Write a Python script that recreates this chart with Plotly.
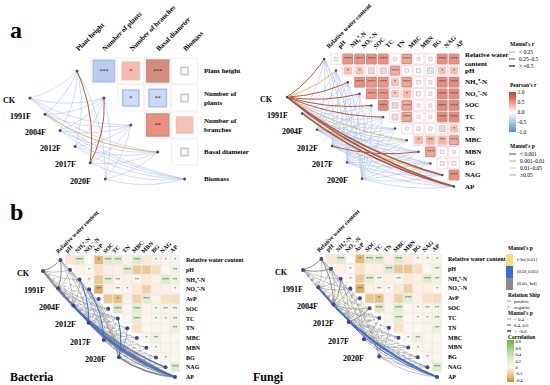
import numpy as np
import plotly.graph_objects as go

W, H = 550, 385
FONT = "Liberation Serif"

# ------------------------------------------------------------------ DATA
nodes = ["CK", "1991F", "2004F", "2012F", "2017F", "2020F"]

# panel a (left): plant traits
plant_rows = ["Plant height", "Number of<br>plants", "Number of<br>branches", "Basal diameter", "Biomass"]
plant_heads = ["Plant height", "Number of plants", "Number of branches", "Basal diameter", "Biomass"]
plant_r = [[-0.60, 0.45, 0.85, 0.05],
           [-0.40, -0.45, 0.05],
           [0.75, 0.40],
           [0.05]]
plant_sig = [["***", "*", "***", ""],
             ["*", "**", ""],
             ["**", ""],
             [""]]
plant_mantel_r = [[0.15, 0.15, 0.15, 0.15, 0.15],
                  [0.15, 0.15, 0.15, 0.35, 0.15],
                  [0.15, 0.15, 0.15, 0.15, 0.15],
                  [0.15, 0.15, 0.15, 0.15, 0.15],
                  [0.30, 0.30, 0.15, 0.15, 0.15],
                  [0.15, 0.15, 0.15, 0.15, 0.15]]
plant_mantel_p = [[0.30, 0.30, 0.30, 0.30, 0.30],
                  [0.30, 0.30, 0.30, 0.005, 0.30],
                  [0.30, 0.30, 0.30, 0.30, 0.30],
                  [0.30, 0.30, 0.30, 0.30, 0.30],
                  [0.0005, 0.0005, 0.30, 0.30, 0.30],
                  [0.30, 0.30, 0.30, 0.30, 0.30]]

# panel a (right): soil properties
soil_a_rows = ["Relative water<br>content", "pH", "NH₄⁺-N", "NO₃⁻-N",
               "SOC", "TC", "TN", "MBC", "MBN", "BG", "NAG", "AP"]
soil_a_heads = ["Relative water content", "pH", "NH₄⁺-N", "NO₃⁻-N",
                "SOC", "TC", "TN", "MBC", "MBN", "BG", "NAG", "AP"]
soil_a_r = [[0.08, 0.70, 0.70, 0.75, 0.75, 0.08, 0.60, 0.03, 0.08, 0.75, 0.75],
            [0.40, 0.40, 0.30, 0.30, 0.55, 0.08, -0.15, -0.30, 0.40, 0.40],
            [0.75, 0.70, 0.70, 0.40, 0.60, 0.08, 0.03, 0.80, 0.80],
            [0.70, 0.70, 0.35, 0.45, -0.15, 0.03, 0.80, 0.80],
            [0.80, 0.30, 0.60, 0.03, 0.03, 0.80, 0.80],
            [0.30, 0.60, 0.03, 0.03, 0.80, 0.80],
            [0.03, 0.08, 0.08, 0.30, 0.40],
            [0.45, 0.50, 0.50, 0.55],
            [0.60, 0.08, 0.03],
            [0.12, 0.12],
            [0.75]]
soil_a_sig = [["", "***", "***", "***", "***", "", "***", "", "", "***", "***"],
              ["*", "*", "", "", "***", "", "", "", "*", "*"],
              ["***", "***", "***", "*", "***", "", "", "***", "***"],
              ["***", "***", "*", "*", "", "", "***", "***"],
              ["***", "", "***", "", "", "***", "***"],
              ["", "***", "", "", "***", "***"],
              ["", "", "", "", "*"],
              ["*", "**", "**", "***"],
              ["***", "", ""],
              ["", ""],
              ["***"]]
soil_a_mantel_r = [[0.45, 0.35, 0.40, 0.40, 0.40, 0.40, 0.10, 0.30, 0.10, 0.10, 0.55, 0.55],
                   [0.15, 0.15, 0.15, 0.15, 0.15, 0.15, 0.15, 0.15, 0.15, 0.15, 0.40, 0.50],
                   [0.15, 0.15, 0.15, 0.15, 0.15, 0.15, 0.15, 0.15, 0.15, 0.15, 0.15, 0.15],
                   [0.15, 0.15, 0.15, 0.15, 0.15, 0.15, 0.15, 0.15, 0.40, 0.15, 0.15, 0.15],
                   [0.10, 0.10, 0.10, 0.10, 0.10, 0.10, 0.10, 0.10, 0.10, 0.10, 0.10, 0.10],
                   [0.10, 0.10, 0.10, 0.10, 0.10, 0.10, 0.10, 0.10, 0.10, 0.10, 0.10, 0.10]]
soil_a_mantel_p = [[0.0005, 0.005, 0.0005, 0.0005, 0.0005, 0.0005, 0.20, 0.005, 0.30, 0.30, 0.0005, 0.0005],
                   [0.30, 0.30, 0.30, 0.30, 0.30, 0.30, 0.30, 0.30, 0.30, 0.30, 0.005, 0.0005],
                   [0.30, 0.30, 0.30, 0.30, 0.30, 0.30, 0.30, 0.30, 0.30, 0.30, 0.30, 0.30],
                   [0.30, 0.30, 0.30, 0.30, 0.30, 0.30, 0.30, 0.30, 0.0005, 0.30, 0.30, 0.30],
                   [0.30, 0.30, 0.30, 0.30, 0.30, 0.30, 0.30, 0.30, 0.30, 0.30, 0.30, 0.30],
                   [0.30, 0.30, 0.30, 0.30, 0.30, 0.30, 0.30, 0.30, 0.30, 0.30, 0.30, 0.30]]

# panel b: soil properties vs bacteria / fungi
soil_b_rows = ["Relative water content", "pH", "NH₄⁺-N", "NO₃⁻-N", "AvP",
               "SOC", "TC", "TN", "MBC", "MBN", "BG", "NAG", "AP"]
soil_b_r = [[-0.12, 0.35, 0.00, -0.40, 0.35, 0.35, -0.05, 0.35, -0.10, 0.10, 0.05, 0.08],
            [-0.05, 0.02, -0.15, -0.05, -0.05, 0.35, -0.30, -0.30, -0.18, 0.02, 0.20],
            [0.02, -0.30, 0.30, 0.08, -0.05, 0.08, -0.10, -0.05, 0.35, 0.20],
            [-0.45, -0.05, 0.05, 0.02, -0.10, -0.25, -0.05, -0.05, 0.05],
            [-0.30, -0.35, -0.05, -0.25, 0.30, -0.05, -0.15, -0.18],
            [0.40, 0.05, 0.35, -0.02, 0.08, 0.10, 0.12],
            [0.05, 0.30, 0.02, 0.05, 0.08, 0.15],
            [-0.15, 0.05, 0.05, 0.08, 0.20],
            [0.05, 0.20, 0.05, 0.05],
            [0.05, 0.05, 0.08],
            [0.05, 0.05],
            [0.35]]
soil_b_sig = [["", "***", "", "*", "***", "***", "", "***", "", "*", "*", "*"],
              ["", "*", "", "", "", "***", "", "", "", "", "**"],
              ["*", "", "***", "**", "", "**", "", "", "***", "**"],
              ["**", "", "**", "*", "", "", "", "", "*"],
              ["", "*", "", "", "***", "", "", ""],
              ["***", "", "***", "", "*", "**", "**"],
              ["", "***", "", "*", "*", "**"],
              ["", "", "", "", "**"],
              ["*", "**", "", ""],
              ["*", "", ""],
              ["*", ""],
              ["***"]]
bac_mantel_r = [[0.45, 0.30, 0.30, -0.20, -0.20, 0.30, 0.30, -0.20, -0.20, -0.20, -0.20, 0.45, 0.65],
                [0.45, 0.30, -0.20, -0.20, -0.20, 0.30, 0.30, -0.20, -0.20, -0.20, -0.20, 0.45, 0.65],
                [0.30, -0.20, 0.30, -0.20, -0.20, -0.20, 0.30, -0.20, -0.20, -0.20, -0.20, 0.30, 0.65],
                [0.30, -0.20, 0.45, -0.20, -0.20, 0.30, -0.20, -0.20, 0.30, -0.20, -0.20, -0.20, 0.65],
                [0.30, -0.20, 0.30, 0.45, -0.20, -0.20, -0.20, 0.30, -0.20, -0.20, -0.20, -0.20, 0.45],
                [0.30, 0.30, 0.30, 0.30, -0.20, -0.20, 0.45, 0.35, 0.30, 0.30, -0.20, 0.30, 0.65]]
bac_mantel_p = [[0.30, 0.30, 0.30, 0.30, 0.30, 0.30, 0.30, 0.30, 0.30, 0.30, 0.30, 0.30, 0.30],
                [0.30, 0.30, 0.30, 0.30, 0.30, 0.30, 0.30, 0.30, 0.30, 0.30, 0.30, 0.03, 0.30],
                [0.30, 0.30, 0.30, 0.30, 0.30, 0.30, 0.30, 0.30, 0.30, 0.30, 0.30, 0.30, 0.03],
                [0.30, 0.30, 0.03, 0.30, 0.30, 0.30, 0.30, 0.30, 0.30, 0.30, 0.30, 0.30, 0.30],
                [0.30, 0.30, 0.30, 0.03, 0.30, 0.30, 0.30, 0.30, 0.30, 0.30, 0.30, 0.30, 0.30],
                [0.30, 0.30, 0.30, 0.30, 0.30, 0.30, 0.03, 0.03, 0.005, 0.30, 0.30, 0.30, 0.30]]
fun_mantel_r = [[0.45, 0.45, 0.30, 0.30, -0.20, -0.20, 0.30, -0.20, -0.20, -0.20, -0.20, -0.20, 0.30],
                [0.30, 0.30, 0.30, 0.30, 0.30, 0.30, -0.20, -0.20, 0.30, -0.20, -0.20, 0.30, 0.65],
                [0.45, 0.30, 0.45, 0.30, -0.20, 0.30, 0.30, -0.20, 0.30, -0.20, -0.20, 0.30, 0.45],
                [0.30, -0.20, 0.30, -0.20, -0.20, 0.45, -0.20, -0.20, -0.20, -0.20, 0.30, -0.20, 0.55],
                [0.30, -0.20, -0.20, 0.30, -0.20, -0.20, 0.30, -0.20, -0.20, 0.30, -0.20, -0.20, 0.30],
                [0.30, -0.20, -0.20, -0.20, -0.20, -0.20, -0.20, 0.30, -0.20, -0.20, 0.30, 0.30, 0.30]]
fun_mantel_p = [[0.30, 0.30, 0.30, 0.30, 0.30, 0.30, 0.30, 0.30, 0.30, 0.30, 0.30, 0.30, 0.30],
                [0.30, 0.30, 0.30, 0.30, 0.005, 0.005, 0.30, 0.30, 0.30, 0.30, 0.30, 0.30, 0.03],
                [0.30, 0.30, 0.30, 0.30, 0.30, 0.30, 0.30, 0.005, 0.30, 0.30, 0.30, 0.30, 0.30],
                [0.30, 0.30, 0.30, 0.30, 0.30, 0.30, 0.30, 0.30, 0.30, 0.30, 0.30, 0.30, 0.03],
                [0.30, 0.30, 0.30, 0.30, 0.30, 0.30, 0.30, 0.30, 0.30, 0.30, 0.30, 0.30, 0.30],
                [0.30, 0.30, 0.30, 0.30, 0.30, 0.30, 0.30, 0.30, 0.30, 0.30, 0.30, 0.30, 0.30]]

# ------------------------------------------------------------------ LAYOUT PARAMS
PANELS = {
    "A1": dict(ox=77, oy=71, dx=26.9, dy=27.0, n0=(-1.75, 1.0), ns=(0.56, 0.60), k=1,
               curv=0.14, node_gap=12, row_gap=17, head_off=(-0.15, -0.62), fsz=7, hsz=7),
    "A2": dict(ox=324.2, oy=59, dx=11.8, dy=11.6, n0=(-3.15, 3.28), ns=(1.27, 1.41), k=2,
               curv=0.10, node_gap=12, row_gap=9, head_off=(-0.1, -0.72), fsz=7, hsz=6.3),
    "B1": dict(ox=60.45, oy=260, dx=9.55, dy=9.75, n0=(-1.83, 1.13), ns=(1.59, 1.77), k=3,
               curv=0.13, node_gap=11, row_gap=9, head_off=(-0.8, -0.45), fsz=6, hsz=6),
    "B2": dict(ox=321.4, oy=259, dx=9.64, dy=9.83, n0=(-1.91, 1.12), ns=(1.58, 1.76), k=4,
               curv=0.13, node_gap=13, row_gap=9, head_off=(-0.8, -0.45), fsz=6, hsz=6),
}

PEARSON = [[0, "#5a8ad8"], [0.25, "#aec4ee"], [0.5, "#ffffff"], [0.72, "#f2a090"],
           [0.88, "#e25e4a"], [1, "#8c5c3c"]]
CORR = [[0, "#c8902a"], [0.18, "#f1c792"], [0.346, "#fdf7f1"], [0.5, "#e3f0d4"],
        [0.7, "#bcdfa3"], [1, "#6aae4a"]]


def ax_names(P):
    k = P["k"]
    return ("x" if k == 1 else f"x{k}"), ("y" if k == 1 else f"y{k}")


def px(x, y):
    return x / W, 1 - y / H


def curve(p0, p1, sx, sy, c, n=28):
    x0, y0, x1, y1 = p0[0] * sx, p0[1] * sy, p1[0] * sx, p1[1] * sy
    mx, my = (x0 + x1) / 2, (y0 + y1) / 2
    cx, cy = mx - c * (y1 - y0), my + c * (x1 - x0)
    t = np.linspace(0, 1, n)
    X = (1 - t) ** 2 * x0 + 2 * (1 - t) * t * cx + t ** 2 * x1
    Y = (1 - t) ** 2 * y0 + 2 * (1 - t) * t * cy + t ** 2 * y1
    return list(X / sx), list(Y / sy)


def node_pos(P, i):
    return P["n0"][0] + i * P["ns"][0], P["n0"][1] + i * P["ns"][1]


def style_a(r, p):
    if p < 0.001:
        col = "#b0583e"
    elif p < 0.01:
        col = "#d6b873"
    elif p < 0.05:
        col = "#cfd9f0"
    else:
        col = "#a3b6e4"
    w = 0.5 if abs(r) < 0.25 else (1.0 if abs(r) < 0.5 else 1.6)
    pri = 0 if p >= 0.05 else 1
    return (pri, col, w, "solid")


def style_b(r, p):
    if p <= 0.01:
        col = "#ece27e"
    elif p <= 0.05:
        col = "#3c6bd2"
    else:
        col = "#8a8a8a"
    a = abs(r)
    w = 0.5 if a < 0.4 else (1.0 if a < 0.6 else 1.8)
    dash = "solid" if r > 0 else "dot"
    pri = 0 if p > 0.05 else 1
    return (pri, col, w, dash)


fig = go.Figure()
ann = []
shapes = []


def add_links(P, mr, mp, style):
    xa, ya = ax_names(P)
    groups = {}
    nv = len(mr[0])
    for i in range(len(nodes)):
        n = node_pos(P, i)
        for j in range(nv):
            key = style(mr[i][j], mp[i][j])
            X, Y = curve(n, (j, j), P["dx"], P["dy"], P["curv"])
            g = groups.setdefault(key, ([], []))
            g[0].extend(X + [None])
            g[1].extend(Y + [None])
    for key in sorted(groups, key=lambda k: (k[0], k[2])):
        _, col, w, dash = key
        X, Y = groups[key]
        fig.add_trace(go.Scatter(x=X, y=Y, mode="lines", xaxis=xa, yaxis=ya,
                                 line=dict(color=col, width=w, dash=dash),
                                 hoverinfo="skip", showlegend=False))


def add_nodes(P, nv, color, size, labsize):
    xa, ya = ax_names(P)
    nx = [node_pos(P, i)[0] for i in range(len(nodes))]
    ny = [node_pos(P, i)[1] for i in range(len(nodes))]
    fig.add_trace(go.Scatter(x=nx + list(range(nv)), y=ny + list(range(nv)), mode="markers",
                             xaxis=xa, yaxis=ya, marker=dict(color=color, size=size),
                             hoverinfo="skip", showlegend=False))
    for i, name in enumerate(nodes):
        ann.append(dict(x=nx[i], y=ny[i], xref=xa, yref=ya, text=f"<b>{name}</b>", showarrow=False,
                        xanchor="right", yanchor="middle", xshift=-P["node_gap"], yshift=-2,
                        font=dict(family=FONT, size=labsize, color="black")))


def add_cells(P, rmat, sig, nv, mode, grid_color, star_size, coloraxis):
    xa, ya = ax_names(P)
    cs = min(P["dx"], P["dy"])
    xs, ys, rs, ts = [], [], [], []
    for i, row in enumerate(rmat):
        for k, v in enumerate(row):
            xs.append(i + 1 + k)
            ys.append(i)
            rs.append(v)
            ts.append(sig[i][k])
    if mode == "sized":
        fig.add_trace(go.Scatter(x=xs, y=ys, mode="markers", xaxis=xa, yaxis=ya,
                                 marker=dict(symbol="square", size=cs - 1, color="white",
                                             line=dict(color=grid_color, width=1)),
                                 hoverinfo="skip", showlegend=False))
        sizes = [cs * min(0.82, 0.22 + 0.95 * abs(v)) for v in rs]
        lcols = ["#a5674c" if v > 0.5 else ("#e8a696" if v > 0.3 else
                 ("#86a3e0" if v < -0.3 else "#b8b8b8")) for v in rs]
        lw = 1.6 if P["k"] == 1 else 1.0
    else:
        sizes = [cs - 0.6] * len(rs)
        lcols = [grid_color] * len(rs)
        lw = 0.5
    fig.add_trace(go.Scatter(x=xs, y=ys, mode="markers", xaxis=xa, yaxis=ya,
                             marker=dict(symbol="square", size=sizes, color=rs, coloraxis=coloraxis,
                                         line=dict(color=lcols, width=lw)),
                             hoverinfo="skip", showlegend=False))
    sx = [x for x, t in zip(xs, ts) if t]
    sy = [y for y, t in zip(ys, ts) if t]
    st = [t for t in ts if t]
    fig.add_trace(go.Scatter(x=sx, y=sy, mode="text", xaxis=xa, yaxis=ya, text=st,
                             textposition="middle center",
                             textfont=dict(family=FONT, size=star_size, color="#222"),
                             hoverinfo="skip", showlegend=False))


def add_labels(P, rows, heads, nv):
    xa, ya = ax_names(P)
    for i, lab in enumerate(rows):
        ann.append(dict(x=nv - 1, y=i, xref=xa, yref=ya, text=f"<b>{lab}</b>", showarrow=False,
                        xanchor="left", yanchor="middle", xshift=P["row_gap"], align="left",
                        font=dict(family=FONT, size=P["fsz"], color="black")))
    for j, lab in enumerate(heads):
        ann.append(dict(x=j + P["head_off"][0], y=P["head_off"][1], xref=xa, yref=ya,
                        text=f"<b>{lab}</b>", showarrow=False, textangle=-45,
                        xanchor="left", yanchor="bottom", borderpad=0,
                        font=dict(family=FONT, size=P["hsz"], color="black")))


# ---- panel a left
PA1 = PANELS["A1"]
add_links(PA1, plant_mantel_r, plant_mantel_p, style_a)
add_cells(PA1, plant_r, plant_sig, 5, "sized", "#f3eef0", 6, "coloraxis")
add_nodes(PA1, 5, "#4a4a6a", 3, 8)
add_labels(PA1, plant_rows, plant_heads, 5)

# ---- panel a right
PA2 = PANELS["A2"]
add_links(PA2, soil_a_mantel_r, soil_a_mantel_p, style_a)
add_cells(PA2, soil_a_r, soil_a_sig, 12, "sized", "#fadbe3", 5, "coloraxis")
add_nodes(PA2, 12, "#4a4a6a", 2.5, 8)
add_labels(PA2, soil_a_rows, soil_a_heads, 12)

# ---- panel b left / right
PB1, PB2 = PANELS["B1"], PANELS["B2"]
add_links(PB1, bac_mantel_r, bac_mantel_p, style_b)
add_cells(PB1, soil_b_r, soil_b_sig, 13, "full", "#f3d3d6", 4.5, "coloraxis2")
add_nodes(PB1, 13, "#4b3f8e", 4, 8)
add_labels(PB1, soil_b_rows, soil_b_rows, 13)

add_links(PB2, fun_mantel_r, fun_mantel_p, style_b)
add_cells(PB2, soil_b_r, soil_b_sig, 13, "full", "#f3d3d6", 4.5, "coloraxis2")
add_nodes(PB2, 13, "#4b3f8e", 4, 8)
add_labels(PB2, soil_b_rows, soil_b_rows, 13)


# ------------------------------------------------------------------ panel titles
def txt(xp, yp, s, size, xanchor="left", yanchor="middle", bold=True):
    x, y = px(xp, yp)
    ann.append(dict(x=x, y=y, xref="paper", yref="paper", text=(f"<b>{s}</b>" if bold else s),
                    showarrow=False, xanchor=xanchor, yanchor=yanchor,
                    font=dict(family=FONT, size=size, color="black")))


txt(8, 30, "a", 24)
txt(8, 212, "b", 24)
txt(8, 377, "Bacteria", 12)
txt(251, 377, "Fungi", 12)


# ------------------------------------------------------------------ legends
def lseg(x0, x1, y, color, width, dash="solid"):
    a0, b0 = px(x0, y)
    a1, _ = px(x1, y)
    shapes.append(dict(type="line", xref="paper", yref="paper", x0=a0, x1=a1, y0=b0, y1=b0,
                       line=dict(color=color, width=width, dash=dash)))


def lrect(x0, x1, y0, y1, color):
    a0, b0 = px(x0, y0)
    a1, b1 = px(x1, y1)
    shapes.append(dict(type="rect", xref="paper", yref="paper", x0=a0, x1=a1, y0=b0, y1=b1,
                       line=dict(width=0), fillcolor=color))


# a legend
txt(508, 44, "Mantel's r", 5.5)
for yy, lab, w in [(52, "< 0.25", 0.5), (59, "0.25–0.5", 1.0), (66, "> =0.5", 1.6)]:
    lseg(509, 515, yy, "#555", w)
    txt(517, yy, lab, 5.5, bold=False)
txt(508, 85, "Pearson's r", 5.5)
txt(508, 146, "Mantel's p", 5.5)
for yy, lab, c in [(154, "< 0.001", "#b0583e"), (161, "0.001–0.01", "#d6b873"),
                   (168, "0.01–0.05", "#cfd9f0"), (175, "≥0.05", "#a3b6e4")]:
    lseg(509, 516, yy, c, 1.2)
    txt(518, yy, lab, 5.5, bold=False)

# b legend
txt(506, 248, "Mantel's p", 5.5)
for (y0, y1, c, lab) in [(254, 266, "#ece27e", "(-Inf,0.01]"), (266, 278, "#3c6bd2", "(0.01,0.05]"),
                         (278, 290, "#8a8a8a", "(0.05, Inf]")]:
    lrect(506, 513, y0, y1, c)
    txt(515, (y0 + y1) / 2, lab, 4.8, bold=False)
txt(506, 295, "Relation Ship", 5.5)
lseg(507, 511, 301, "#555", 0.6)
txt(512, 301, "positive", 4.8, bold=False)
lseg(507, 511, 307, "#555", 0.6, "dot")
txt(512, 307, "negative", 4.8, bold=False)
txt(506, 313, "Mantel's p", 5.5)
for yy, lab, w in [(319, "< 0.4", 0.5), (325, "0.4–0.6", 1.0), (331, "> =0.6", 1.8)]:
    lseg(507, 511, yy, "#555", w)
    txt(512, yy, lab, 4.8, bold=False)
txt(506, 337, "Correlation", 5.5)

# ------------------------------------------------------------------ axes
layout_axes = {}
for P in PANELS.values():
    k = P["k"]
    sx = "" if k == 1 else str(k)
    xr = [-P["ox"] / P["dx"], (W - P["ox"]) / P["dx"]]
    yr = [(H - P["oy"]) / P["dy"], -P["oy"] / P["dy"]]
    layout_axes[f"xaxis{sx}"] = dict(domain=[0, 1], range=xr, visible=False, anchor=f"y{sx}",
                                     fixedrange=True)
    layout_axes[f"yaxis{sx}"] = dict(domain=[0, 1], range=yr, visible=False, anchor=f"x{sx}",
                                     fixedrange=True)

fig.update_layout(
    width=W, height=H, margin=dict(l=0, r=0, t=0, b=0, autoexpand=False),
    paper_bgcolor="white", plot_bgcolor="rgba(0,0,0,0)",
    showlegend=False,
    annotations=ann, shapes=shapes,
    coloraxis=dict(colorscale=PEARSON, cmin=-1, cmax=1,
                   colorbar=dict(x=509 / W, xanchor="left", y=1 - 112 / H, yanchor="middle",
                                 len=40, lenmode="pixels", thickness=7, outlinewidth=0,
                                 xpad=0, ypad=0, ticks="", tickvals=[-1, -0.5, 0, 0.5, 1],
                                 ticktext=["-1.0", "-0.5", "0.0", "0.5", "1.0"],
                                 tickfont=dict(family=FONT, size=5.5, color="black"))),
    coloraxis2=dict(colorscale=CORR, cmin=-0.45, cmax=0.85,
                    colorbar=dict(x=507 / W, xanchor="left", y=1 - 361 / H, yanchor="middle",
                                  len=42, lenmode="pixels", thickness=7, outlinewidth=0,
                                  xpad=0, ypad=0, ticks="",
                                  tickvals=[-0.4, -0.2, 0, 0.2, 0.4, 0.6, 0.8],
                                  ticktext=["-0.4", "-0.2", "0", "0.2", "0.4", "0.6", "0.8"],
                                  tickfont=dict(family=FONT, size=4.5, color="black"))),
    **layout_axes,
)

fig.write_html("out.html", config={"displayModeBar": False},
               post_script="document.body.style.margin='0px';document.body.style.overflow='hidden';")
